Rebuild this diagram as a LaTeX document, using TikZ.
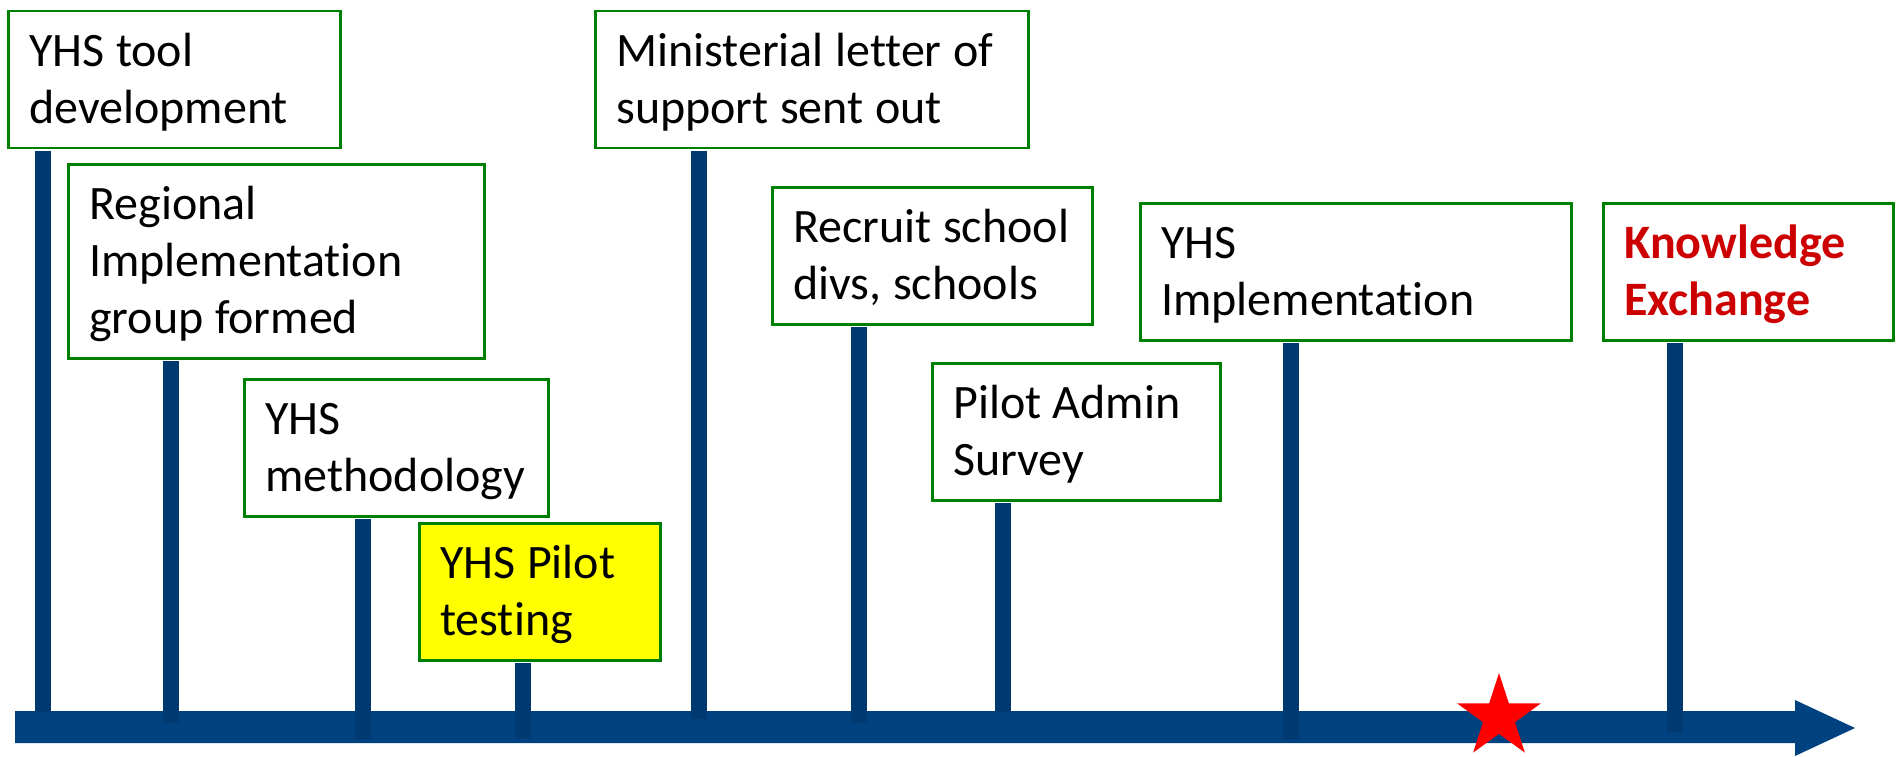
\documentclass[tikz,border=0pt]{standalone}
\usepackage{fontspec}
\setmainfont[Ligatures=NoCommon]{Carlito}
\usetikzlibrary{shapes.geometric}
\definecolor{axisblue}{RGB}{0,65,128}
\definecolor{barblue}{RGB}{0,56,112}
\definecolor{boxgreen}{RGB}{0,128,0}
\definecolor{kxred}{RGB}{204,0,0}
\definecolor{hiyellow}{RGB}{255,255,0}
\newcommand\evstrut{\rule[-13.5pt]{0pt}{57pt}}
\newcommand\evline[1]{\evstrut\mbox{\spaceskip=11.5pt\relax #1}}
\newcommand\evfont{\fontsize{48pt}{57pt}\selectfont}
\tikzset{
  evbox/.style={draw=boxgreen, line width=2.5pt, fill=white, anchor=north west,
    align=left, inner xsep=21pt, inner ysep=11.5pt, font=\evfont, text width=#1},
  bar/.style={draw=barblue, line width=16pt},
}
\begin{document}
\begin{tikzpicture}[x=1pt,y=-1pt]
\useasboundingbox (0,0) rectangle (1898,757);
% axis with arrow head
\fill[axisblue] (15,711) -- (1795,711) -- (1795,700) -- (1855,728) -- (1795,756) -- (1795,743) -- (15,743) -- cycle;
% bar end coordinates
\coordinate (e1) at (43,712);
\coordinate (e2) at (171,723);
\coordinate (e3) at (363,739);
\coordinate (e4) at (523,738);
\coordinate (e5) at (699,719);
\coordinate (e6) at (859,723);
\coordinate (e7) at (1003,712);
\coordinate (e8) at (1291,739);
\coordinate (e9) at (1675,732);
% boxes
\node[evbox=290pt] (b1) at (7,10) {\evline{YHS tool}\\\evline{development}};
\node[evbox=374pt] (b2) at (67,163) {\evline{Regional}\\\evline{Implementation}\\\evline{group formed}};
\node[evbox=262pt] (b3) at (243,378) {\evline{YHS}\\\evline{methodology}};
\node[evbox=199pt, fill=hiyellow] (b4) at (418,522) {\evline{YHS Pilot}\\\evline{testing}};
\node[evbox=391pt] (b5) at (594,10) {\evline{Ministerial letter of}\\\evline{support sent out}};
\node[evbox=278pt] (b6) at (771,186) {\evline{Recruit school}\\\evline{divs, schools}};
\node[evbox=246pt] (b7) at (931,362) {\evline{Pilot Admin}\\\evline{Survey}};
\node[evbox=389pt] (b8) at (1139,202) {\evline{YHS}\\\evline{Implementation}};
\node[evbox=248pt, text=kxred, font=\evfont\bfseries] (b9) at (1602,202) {\evline{Knowledge}\\\evline{Exchange}};
% bars
\foreach \i in {1,...,9} {
  \draw[bar] ([yshift=-1.5pt]b\i.south -| e\i) -- (e\i);
}
% star
\node[star, star points=5, star point ratio=2.618, minimum size=88pt, inner sep=0pt, fill=red] (st) at (1499,717) {};
\end{tikzpicture}
\end{document}
